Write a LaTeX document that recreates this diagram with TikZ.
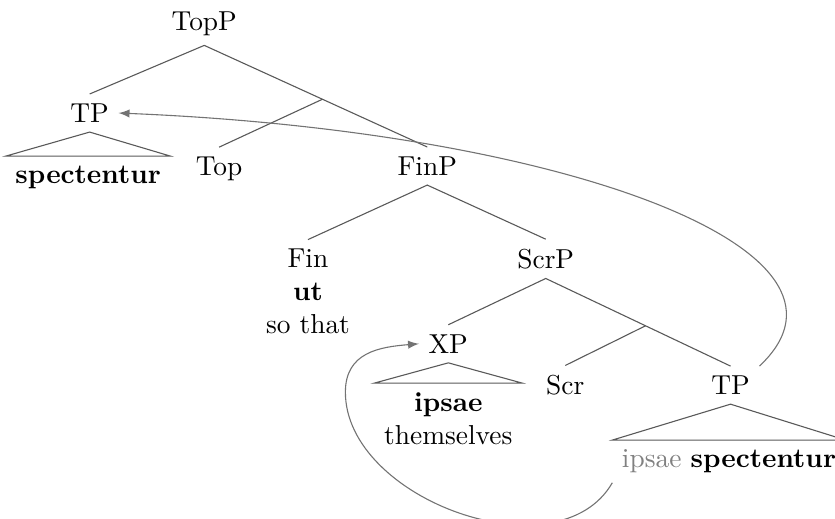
\documentclass[tikz,border=0pt]{standalone}
\usetikzlibrary{positioning,calc}

\begin{document}
\begin{tikzpicture}
  \tikzset{cat/.style={anchor=base},
    leaf/.style={anchor=base, align=center},
    branch/.style={draw=black!65},
    roof/.style={draw=black!65},
    move/.style={-latex, draw=black!55, thin}
  }
  \useasboundingbox (0,0) rectangle (10.71,6.65);

  % upper half of the tree
  \node[cat] (TopP) at (2.62,6.26) {TopP};
  \node[cat] (TPa) at (1.15,5.08) {TP};
  \node[leaf] (specA) at (1.13,4.30) {\textbf{spectentur}};
  \node[cat] (Top) at (2.81,4.40) {Top};
  \node[cat] (FinP) at (5.48,4.40) {FinP};
  \node[leaf] (Fin) at (3.95,2.37) {Fin\\\textbf{ut}\\so that};
  \node[cat] (ScrP) at (7.00,3.21) {ScrP};

  % lower half
  \node[cat] (XP) at (5.75,2.12) {XP};
  \node[leaf] (ipsB) at (5.75,0.95) {\textbf{ipsae}\\themselves};
  \node[cat] (Scr) at (7.25,1.59) {Scr};
  \node[cat] (TPb) at (9.37,1.59) {TP};
  \node[leaf] (specB) at (9.35,0.65) {{\color{black!50}ipsae} \textbf{spectentur}};

  \draw[branch] (TPa.north) -- (TopP.south) -- (FinP.north);
  \draw[branch] (Top.north) -- ($(TopP.south)!0.53!(FinP.north)$);
  \draw[branch] (Fin.north) -- (FinP.south) -- (ScrP.north);
  \draw[branch] (XP.north) -- (ScrP.south) -- (TPb.north);
  \draw[branch] (Scr.north) -- ($(ScrP.south)!0.54!(TPb.north)$);

  \draw[roof] (TPa.south) -- (specA.north west) -- (specA.north east) -- cycle;
  \draw[roof] (XP.south) -- (ipsB.north west) -- (ipsB.north east) -- cycle;
  \draw[roof] (TPb.south) -- (specB.north west) -- (specB.north east) -- cycle;

  % movement arrows
  \coordinate (loop) at (4.43,1.62);
  \draw[move] (TPb.north east) .. controls +(1.6,1.5) and +(5.67,-0.23) .. (TPa.east);
  \draw[move] (specB.south west) .. controls +(-0.69,-1.2) and +(0,-1.38) .. (loop)
    .. controls +(0,0.51) and +(-0.51,-0.04) .. (XP.west);
\end{tikzpicture}
\end{document}
